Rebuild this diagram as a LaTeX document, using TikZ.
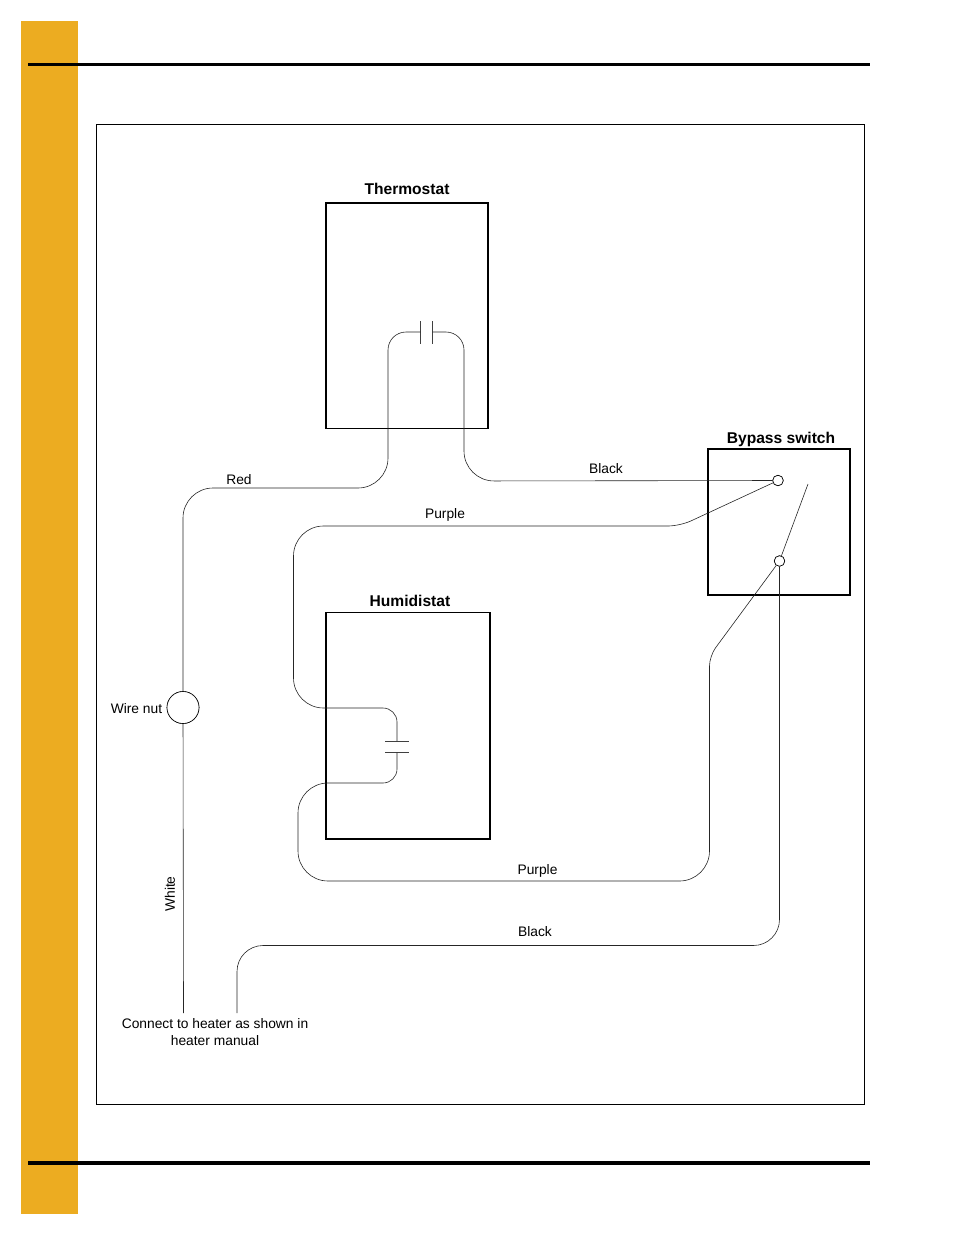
\documentclass[tikz,border=0pt]{standalone}
\usepackage{fontspec}
\setmainfont{Liberation Sans}
\definecolor{tabgold}{HTML}{ECAC21}
\tikzset{
  box/.style={draw,line width=1.8pt,inner sep=0pt},
  title/.style={font=\fontsize{15.6}{18}\selectfont\bfseries,inner sep=0pt},
  lab/.style={font=\fontsize{13.8}{17}\selectfont,inner sep=0pt,align=center},
  wire/.style={line width=0.6pt,black!85},
  plate/.style={line width=0.7pt,black!75},
  contact/.style={circle,draw,line width=0.6pt,fill=white,inner sep=0pt,minimum size=10.5pt},
  rule/.style={line width=3.5pt}
}
\begin{document}
\begin{tikzpicture}
  [x=1pt,y=-1pt]
  \useasboundingbox (0,0) rectangle (954,1235);
  \fill[tabgold] (21,21) rectangle (78,1214);
  \coordinate (r1a) at (28,64.5);
  \coordinate (r1b) at (870,64.5);
  \coordinate (r2a) at (28,1163);
  \coordinate (r2b) at (870,1163);
  \draw[rule] (r1a) -- (r1b);
  \draw[rule] (r2a) -- (r2b);
  \draw[line width=0.8pt] (96.5,124.5) rectangle (864.5,1104.5);

  \node[box,minimum width=162.5pt,minimum height=225.5pt] (thermo) at (407,315.7) {};
  \node[box,minimum width=164.5pt,minimum height=226.5pt] (humid) at (408,725.7) {};
  \node[box,minimum width=142.5pt,minimum height=145.5pt] (bypass) at (779,522) {};
  \node[title] (tthermo) at (407,188.5) {Thermostat};
  \node[title] (thumid) at (410,601) {Humidistat};
  \node[title] (tbypass) at (781,439.5) {Bypass switch};

  \node[contact,minimum size=32pt] (nut) at (183,707.5) {};
  \node[contact] (c1) at (778,480.5) {};
  \node[contact] (c2) at (779.5,561) {};

  % capacitor plates
  \coordinate (t1) at (420.5,332);
  \coordinate (t2) at (432.5,332);
  \coordinate (h1) at (397,741);
  \coordinate (h2) at (397,752.5);
  \draw[plate] (420.5,321) -- (420.5,344);
  \draw[plate] (432.5,321) -- (432.5,344);
  \draw[plate] (385,741) -- (409,741);
  \draw[plate] (385,752.5) -- (409,752.5);

  % corner points of the wires
  \coordinate (red1) at (183,488);
  \coordinate (red2) at (388,488);
  \coordinate (red3) at (388,332);
  \coordinate (blk1) at (464,332);
  \coordinate (blk2) at (464,481);
  \coordinate (pur1) at (680,526);
  \coordinate (pur2) at (293.5,526);
  \coordinate (pur3) at (293.5,708);
  \coordinate (pur4) at (397,708);
  \coordinate (pur5) at (397,783);
  \coordinate (pur6) at (298,783);
  \coordinate (pur7) at (298,881);
  \coordinate (pur8) at (709.5,881);
  \coordinate (pur9) at (709.5,656);
  \coordinate (blk3) at (779.5,945.5);
  \coordinate (blk4) at (237,945.5);
  \coordinate (end1) at (237,1013);
  \coordinate (end2) at (183.5,1013);
  \coordinate (arm) at (808,484);

  \draw[wire,rounded corners=30pt] (nut) -- (red1) -- (red2) [rounded corners=18pt] -- (red3) -- (t1);
  \draw[wire,rounded corners=18pt] (t2) -- (blk1) [rounded corners=30pt] -- (blk2) -- (c1);
  \draw[wire,rounded corners=12pt] (c1) -- (pur1) [rounded corners=30pt] -- (pur2) -- (pur3) [rounded corners=14pt] -- (pur4) -- (h1);
  \draw[wire,rounded corners=14pt] (h2) -- (pur5) [rounded corners=30pt] -- (pur6) -- (pur7) -- (pur8) [rounded corners=10pt] -- (pur9) -- (c2);
  \draw[wire,rounded corners=26pt] (c2) -- (blk3) -- (blk4) -- (end1);
  \draw[wire] (nut) -- (end2);
  \draw[wire] (c2) -- (arm);

  % contacts and nut go over the wires
  \node[contact] at (c1) {};
  \node[contact] at (c2) {};
  \node[contact,minimum size=32pt] at (nut) {};

  \node[lab] (lred) at (239,480) {Red};
  \node[lab] (lblack1) at (606,468.7) {Black};
  \node[lab] (lpurple1) at (445,515) {Purple};
  \node[lab] (lpurple2) at (537.5,871) {Purple};
  \node[lab] (lblack2) at (535,931.5) {Black};
  \node[lab,rotate=90] (lwhite) at (170,894) {White};
  \node[lab] (lnut) at (136.5,709) {Wire nut};
  \node[lab] (lheater) at (215,1032) {Connect to heater as shown in\\heater manual};
\end{tikzpicture}
\end{document}
